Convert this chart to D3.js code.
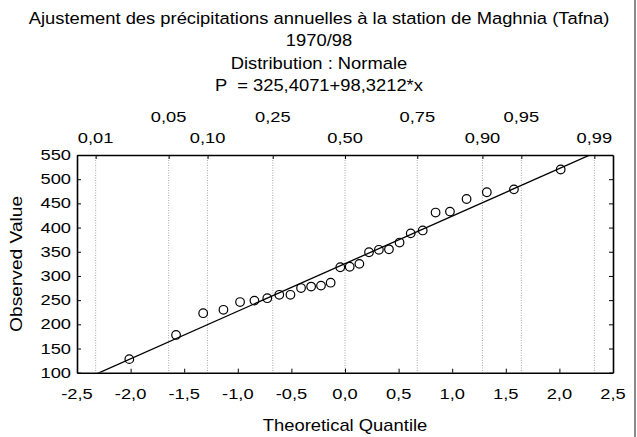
<!DOCTYPE html>
<html><head><meta charset="utf-8">
<script src="https://cdn.jsdelivr.net/npm/d3@7"></script>
<style>
body{margin:0;background:#fff}
text{font-family:"Liberation Sans",Arial,sans-serif;fill:#000;white-space:pre}
</style>
</head><body>
<svg id="c" width="637" height="437"></svg>
<script>
// ---- data ----
const titleLines = [
  "Ajustement des précipitations annuelles à la station de Maghnia (Tafna)",
  "1970/98",
  "Distribution : Normale",
  "P  = 325,4071+98,3212*x"
];
const fitIntercept = 325.4071;
const fitSlope = 98.3212;
const theoreticalQuantile = [-2.012,-1.576,-1.323,-1.134,-0.979,-0.845,-0.725,-0.613,-0.509,-0.410,-0.316,-0.224,-0.134,-0.044,
  0.044,0.134,0.224,0.316,0.410,0.509,0.613,0.725,0.845,0.979,1.134,1.323,1.576,2.012];
const observedValue = [128,178,223,230,246,249,254,261,261,275,278,280,286,318,
  319,325,349,354,355,369,388,394,431,433,459,473,479,520];
const xTicks = [-2.5,-2.0,-1.5,-1.0,-0.5,0.0,0.5,1.0,1.5,2.0,2.5];
const yTicks = [100,150,200,250,300,350,400,450,500,550];
const probLabels = [0.01,0.05,0.10,0.25,0.50,0.75,0.90,0.95,0.99];
const probQuantiles = [-2.326,-1.645,-1.282,-0.674,0,0.674,1.282,1.645,2.326];
const xLabel = "Theoretical Quantile";
const yLabel = "Observed Value";

// ---- layout ----
const svg = d3.select("#c");
const L = 77, R = 613, T = 155, B = 372.7;
const x = d3.scaleLinear([-2.5, 2.5], [L, R]);
const y = d3.scaleLinear([100, 550], [B, T]);
const loc = d3.formatLocale({decimal:",",thousands:" ",grouping:[3],currency:["",""],minus:"-"});
const f1 = loc.format(".1f"), f2 = loc.format(".2f");

function stext(px, py, str, size, anchor, sx, rot) {
  return svg.append("text")
    .attr("transform", `translate(${px},${py})` + (rot ? ` rotate(${rot})` : "") + ` scale(${sx},1)`)
    .attr("text-anchor", anchor)
    .attr("font-size", size)
    .text(str);
}

// page border on the right
svg.append("line").attr("x1",635).attr("x2",635).attr("y1",0).attr("y2",437)
  .attr("stroke","#8a8a8a").attr("stroke-width",2);

// titles
const titleY = [24, 46, 69, 91];
titleLines.forEach((t, i) => stext(319, titleY[i], t, 17, "middle", 1.08));

// probability grid lines
svg.append("g").selectAll("line").data(probQuantiles).join("line")
  .attr("x1", d => x(d)).attr("x2", d => x(d)).attr("y1", T).attr("y2", B)
  .attr("stroke", "#a8a8a8").attr("stroke-width", 1).attr("stroke-dasharray", "1,1.5");

// probability labels (two rows)
probLabels.forEach((p, i) => {
  const row = [1,3,5,7].includes(i) ? 0 : 1;
  stext(x(probQuantiles[i]), row ? 143 : 122, f2(p), 15, "middle", 1.22);
});

// axes (ticks pointing inward)
svg.append("g").attr("transform", `translate(0,${B})`)
  .call(d3.axisBottom(x).tickValues(xTicks).tickSize(-4).tickSizeOuter(0).tickFormat(""));
svg.append("g").attr("transform", `translate(0,${T})`)
  .call(d3.axisTop(x).tickValues(probQuantiles).tickSize(-4).tickSizeOuter(0).tickFormat(""));
svg.append("g").attr("transform", `translate(${L},0)`)
  .call(d3.axisLeft(y).tickValues(yTicks).tickSize(-4).tickSizeOuter(0).tickFormat(""));
svg.append("g").attr("transform", `translate(${R},0)`)
  .call(d3.axisRight(y).tickValues(yTicks).tickSize(-4).tickSizeOuter(0).tickFormat(""));
svg.selectAll(".domain").attr("stroke", "#000").attr("stroke-width", 1.6);
svg.selectAll(".tick line").attr("stroke", "#000").attr("stroke-width", 1);

// tick labels
xTicks.forEach(v => stext(x(v), 399, f1(v), 15, "middle", 1.22));
yTicks.forEach(v => stext(71, y(v) + 5, String(v), 15, "end", 1.22));

// axis titles
stext(345, 431, xLabel, 16, "middle", 1.15);
stext(22, (T + B) / 2, yLabel, 16, "middle", 1.2, -90);

// clip
svg.append("clipPath").attr("id", "clip").append("rect")
  .attr("x", L).attr("y", T).attr("width", R - L).attr("height", B - T);

// fitted line
const lineX = x.domain();
svg.append("line").attr("clip-path", "url(#clip)")
  .attr("x1", x(lineX[0])).attr("y1", y(fitIntercept + fitSlope * lineX[0]))
  .attr("x2", x(lineX[1])).attr("y2", y(fitIntercept + fitSlope * lineX[1]))
  .attr("stroke", "#000").attr("stroke-width", 1.3);

// points
svg.append("g").selectAll("circle").data(theoreticalQuantile).join("circle")
  .attr("cx", d => x(d)).attr("cy", (d, i) => y(observedValue[i]))
  .attr("r", 4.3).attr("fill", "none").attr("stroke", "#000").attr("stroke-width", 1.2);
</script>
</body></html>
